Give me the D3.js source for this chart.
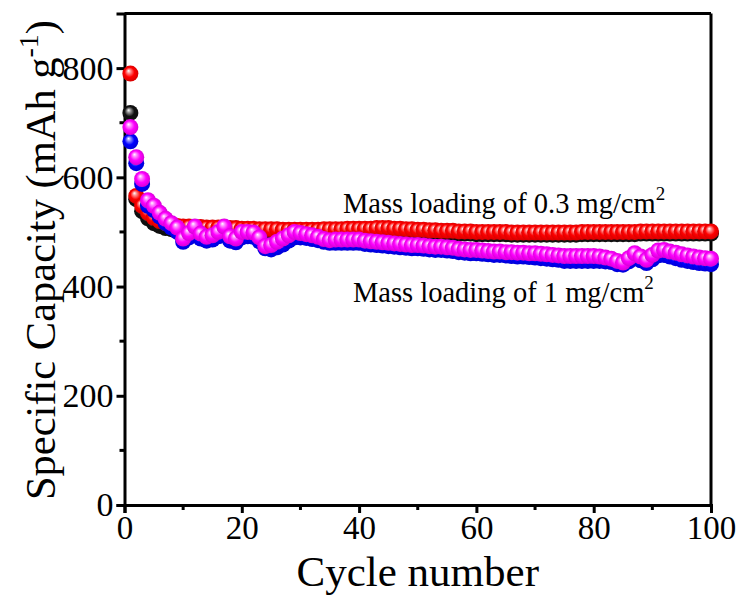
<!DOCTYPE html>
<html>
<head>
<meta charset="utf-8">
<script src="https://cdn.jsdelivr.net/npm/d3@7"></script>
<style>
  html, body { margin: 0; padding: 0; background: #fff; }
  svg text { font-family: "Liberation Serif", "Times New Roman", serif; fill: #000; }
</style>
</head>
<body>
<svg id="chart" width="740" height="598"></svg>
<script>
// Cycling capacity at two mass loadings (charge / discharge for each)
const cycles = d3.range(1, 101);

const low_charge = [
  718, 560, 538, 525, 516, 511, 507, 505, 504, 504,
  504, 503, 503, 503, 502, 502, 502, 502, 501, 501,
  501, 501, 500, 500, 500, 500, 500, 500, 500, 500,
  500, 500, 500, 501, 501, 501, 501, 502, 502, 502,
  502, 502, 503, 503, 503, 502, 502, 501, 501, 500,
  500, 499, 499, 498, 498, 498, 497, 497, 497, 496,
  496, 496, 496, 496, 496, 495, 495, 495, 495, 495,
  495, 495, 495, 495, 495, 495, 495, 496, 496, 496,
  496, 496, 496, 496, 496, 496, 496, 497, 497, 497,
  497, 497, 497, 497, 497, 497, 497, 497, 497, 497
];

const low_discharge = [
  790, 566, 548, 535, 526, 520, 516, 513, 511, 510,
  510, 509, 509, 508, 508, 508, 507, 507, 507, 506,
  506, 506, 505, 505, 505, 505, 504, 504, 504, 504,
  504, 504, 504, 505, 505, 505, 505, 506, 506, 506,
  506, 506, 507, 507, 507, 506, 506, 505, 505, 504,
  504, 503, 503, 502, 502, 502, 501, 501, 501, 500,
  500, 500, 500, 500, 500, 499, 499, 499, 499, 499,
  499, 499, 499, 499, 499, 499, 499, 500, 500, 500,
  500, 500, 500, 500, 500, 500, 500, 501, 501, 501,
  501, 501, 501, 501, 501, 501, 501, 501, 501, 501
];

const high_charge = [
  666, 626, 588, 548, 540, 528, 516, 508, 500, 482,
  490, 500, 488, 484, 486, 492, 500, 484, 481, 490,
  492, 491, 483, 470, 468, 472, 477, 484, 490, 490,
  489, 487, 485, 482, 480, 480, 480, 480, 480, 480,
  478, 477, 476, 475, 474, 473, 472, 471, 470, 470,
  469, 468, 467, 467, 466, 465, 463, 462, 461, 461,
  460, 459, 458, 458, 457, 456, 455, 455, 454, 453,
  452, 451, 450, 449, 447, 447, 447, 447, 447, 447,
  447, 446, 445, 441, 440, 446, 452, 448, 443, 450,
  457, 458, 455, 452, 449, 447, 445, 443, 442, 441
];

const high_discharge = [
  692, 637, 597, 558, 548, 535, 524, 516, 508, 488,
  498, 510, 497, 491, 494, 500, 510, 492, 488, 500,
  500, 499, 490, 474, 476, 482, 488, 494, 500, 498,
  496, 494, 491, 487, 485, 486, 486, 486, 486, 486,
  484, 483, 482, 481, 480, 479, 478, 477, 476, 476,
  475, 474, 473, 473, 472, 471, 469, 468, 467, 467,
  466, 465, 464, 464, 463, 463, 462, 462, 461, 461,
  460, 459, 458, 457, 456, 456, 456, 456, 456, 456,
  455, 453, 451, 447, 444, 452, 461, 455, 449, 458,
  466, 467, 464, 462, 459, 457, 455, 453, 452, 451
];

const seriesList = [
  { name: "black",   color: "#111111", values: low_charge },
  { name: "red",     color: "#ff0000", values: low_discharge },
  { name: "blue",    color: "#0000ff", values: high_charge },
  { name: "magenta", color: "#ff00ff", values: high_discharge }
];

const xTicks = [0, 20, 40, 60, 80, 100];
const xMinor = [10, 30, 50, 70, 90];
const yTicks = [0, 200, 400, 600, 800];
const yMinor = [100, 300, 500, 700];

const labelLow = "Mass loading of 0.3 mg/cm";
const labelHigh = "Mass loading of 1 mg/cm";

// plot area
const plotL = 124.5, plotR = 711, plotT = 13.5, plotB = 505;
const x = d3.scaleLinear().domain([0, 100]).range([plotL, plotR]);
const y = d3.scaleLinear().domain([0, 900]).range([plotB, plotT]);

const svg = d3.select("#chart");
const defs = svg.append("defs");

// shaded-sphere gradients
seriesList.forEach(s => {
  const base = d3.color(s.color);
  const g = defs.append("radialGradient")
    .attr("id", "ball-" + s.name)
    .attr("cx", "50%").attr("cy", "50%").attr("r", "55%")
    .attr("fx", "38%").attr("fy", "32%");
  g.append("stop").attr("offset", "0%").attr("stop-color", "#ffffff");
  g.append("stop").attr("offset", "22%").attr("stop-color", d3.interpolateRgb("#ffffff", base)(0.45));
  g.append("stop").attr("offset", "55%").attr("stop-color", base.formatHex());
  g.append("stop").attr("offset", "100%").attr("stop-color", base.darker(0.6).formatHex());
});

// frame (top and right)
svg.append("line").attr("x1", plotL).attr("x2", plotR).attr("y1", plotT).attr("y2", plotT)
  .attr("stroke", "#000").attr("stroke-width", 3);
svg.append("line").attr("x1", plotR).attr("x2", plotR).attr("y1", plotT).attr("y2", plotB)
  .attr("stroke", "#000").attr("stroke-width", 3);

// x axis
const xAxis = svg.append("g").attr("transform", `translate(0,${plotB})`)
  .call(d3.axisBottom(x).tickValues(xTicks).tickSize(8).tickPadding(3).tickFormat(d3.format("d")));
xAxis.select(".domain").attr("stroke-width", 3);
xAxis.selectAll(".tick line").attr("stroke-width", 3);
xAxis.selectAll(".tick text").attr("font-size", 33);
xAxis.append("g").selectAll("line").data(xMinor).join("line")
  .attr("x1", d => x(d)).attr("x2", d => x(d)).attr("y1", 0).attr("y2", 5)
  .attr("stroke", "#000").attr("stroke-width", 3);

// y axis
const yAxis = svg.append("g").attr("transform", `translate(${plotL},0)`)
  .call(d3.axisLeft(y).tickValues(yTicks).tickSize(8).tickPadding(3).tickFormat(d3.format("d")));
yAxis.select(".domain").attr("stroke-width", 3);
yAxis.selectAll(".tick line").attr("stroke-width", 3);
yAxis.selectAll(".tick text").attr("font-size", 34);
yAxis.append("g").selectAll("line").data(yMinor).join("line")
  .attr("x1", 0).attr("x2", -5).attr("y1", d => y(d)).attr("y2", d => y(d))
  .attr("stroke", "#000").attr("stroke-width", 3);

// axis titles
svg.append("text")
  .attr("x", (plotL + plotR) / 2).attr("y", 586)
  .attr("text-anchor", "middle").attr("font-size", 43)
  .text("Cycle number");

const yTitle = svg.append("text")
  .attr("transform", "translate(55,260) rotate(-90)")
  .attr("text-anchor", "middle").attr("font-size", 42.5);
yTitle.append("tspan").text("Specific Capacity (mAh g");
yTitle.append("tspan").attr("dy", -17).attr("font-size", 28).text("-1");
yTitle.append("tspan").attr("dy", 17).text(")");

// data points
const pts = svg.append("g");
seriesList.forEach(s => {
  pts.append("g").selectAll("circle")
    .data(cycles.map((c, i) => ({ c, v: s.values[i] })))
    .join("circle")
    .attr("cx", d => x(d.c)).attr("cy", d => y(d.v))
    .attr("r", 8)
    .attr("fill", `url(#ball-${s.name})`);
});

// annotations
function annotate(label, ax, ay) {
  const t = svg.append("text").attr("x", ax).attr("y", ay).attr("font-size", 28.5);
  t.append("tspan").text(label);
  t.append("tspan").attr("dy", -13).attr("font-size", 19).text("2");
}
annotate(labelLow, 343, 213);
annotate(labelHigh, 353, 302);
</script>
</body>
</html>
